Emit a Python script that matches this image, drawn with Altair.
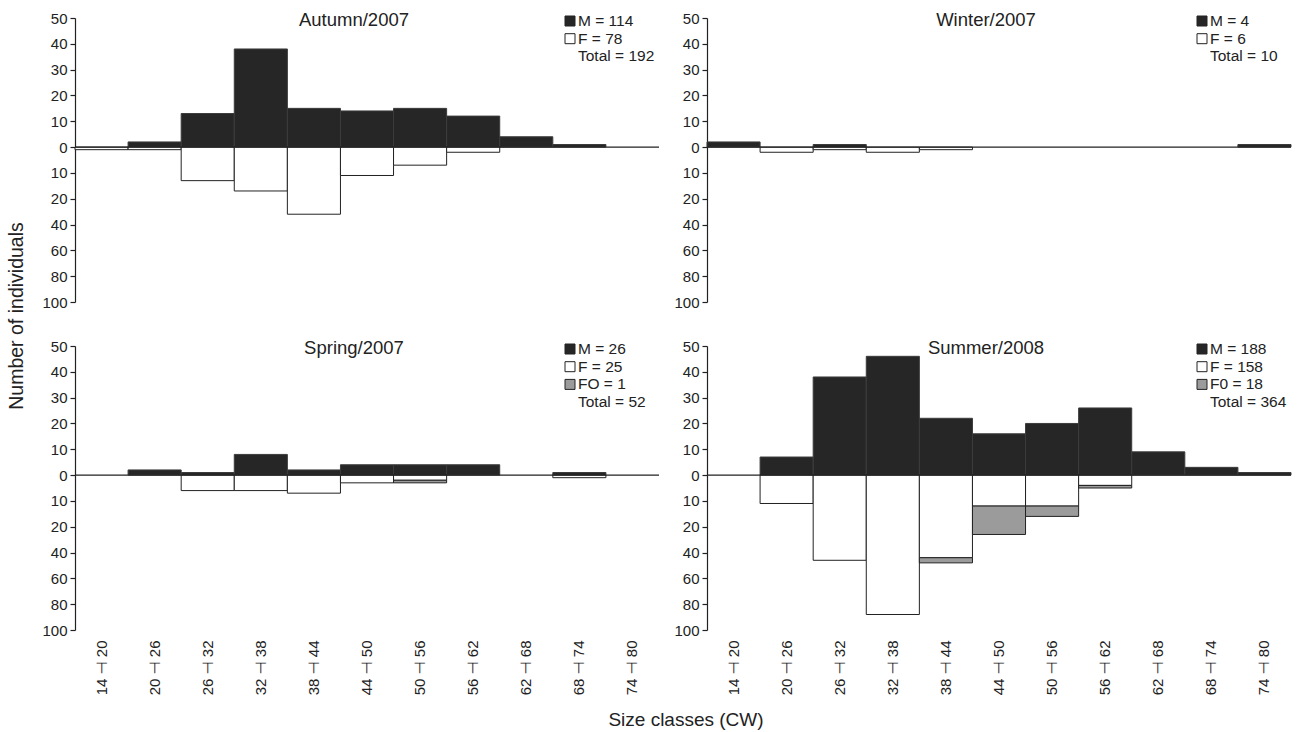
import altair as alt
import pandas as pd

# ---------------- data ----------------
classes = ["14 \u22a3 20", "20 \u22a3 26", "26 \u22a3 32", "32 \u22a3 38", "38 \u22a3 44",
           "44 \u22a3 50", "50 \u22a3 56", "56 \u22a3 62", "62 \u22a3 68", "68 \u22a3 74", "74 \u22a3 80"]

autumn_M = [0, 2, 13, 38, 15, 14, 15, 12, 4, 1, 0]
autumn_F = [1, 1, 13, 17, 26, 11, 7, 2, 0, 0, 0]
autumn_FO = [0, 0, 0, 0, 0, 0, 0, 0, 0, 0, 0]

winter_M = [2, 0, 1, 0, 0, 0, 0, 0, 0, 0, 1]
winter_F = [0, 2, 1, 2, 1, 0, 0, 0, 0, 0, 0]
winter_FO = [0, 0, 0, 0, 0, 0, 0, 0, 0, 0, 0]

spring_M = [0, 2, 1, 8, 2, 4, 4, 4, 0, 1, 0]
spring_F = [0, 0, 6, 6, 7, 3, 2, 0, 0, 1, 0]
spring_FO = [0, 0, 0, 0, 0, 0, 1, 0, 0, 0, 0]

summer_M = [0, 7, 38, 46, 22, 16, 20, 26, 9, 3, 1]
summer_F = [0, 11, 33, 54, 32, 12, 12, 4, 0, 0, 0]
summer_FO = [0, 0, 0, 0, 2, 11, 4, 1, 0, 0, 0]

titles = ["Autumn/2007", "Winter/2007", "Spring/2007", "Summer/2008"]
legend_autumn = [("M", "M = 114"), ("F", "F = 78"), (None, "Total = 192")]
legend_winter = [("M", "M = 4"), ("F", "F = 6"), (None, "Total = 10")]
legend_spring = [("M", "M = 26"), ("F", "F = 25"), ("FO", "FO = 1"), (None, "Total = 52")]
legend_summer = [("M", "M = 188"), ("F", "F = 158"), ("FO", "F0 = 18"), (None, "Total = 364")]

y_tick_values = [50, 40, 30, 20, 10, 0, -10, -20, -30, -40, -50, -60]

# ---------------- style ----------------
FONT = "Liberation Sans, Arial, DejaVu Sans, sans-serif"
INK = "#222222"
FILL = {"M": "#262626", "F": "#ffffff", "FO": "#9b9b9b"}
W, H = 584, 284
label_expr = "datum.value >= -20 ? abs(datum.value) : (abs(datum.value) - 10) * 2"

x_axis = alt.Axis(title=None, labelAngle=270, labelAlign="right", labelBaseline="middle",
                  labelPadding=10, ticks=False, domain=False, labelFontSize=15,
                  labelColor=INK, labelFont=FONT)
y_axis = alt.Axis(title=None, values=y_tick_values, labelExpr=label_expr, grid=False,
                  tickSize=5, tickColor=INK, domainColor=INK, domainWidth=1.2, tickWidth=1.2,
                  labelFontSize=15, labelColor=INK, labelFont=FONT, labelPadding=3)
y_scale = alt.Scale(domain=[-60, 50], nice=False, zero=False)
x_scale = alt.Scale(domain=classes, paddingInner=0, paddingOuter=0)
one = pd.DataFrame({"a": [0]})


def panel(title, M, F, FO, legend, bottom, extra=()):
    df = pd.DataFrame({"cls": classes, "M": M, "F": F, "FO": FO})
    base = alt.Chart(df).transform_calculate(z="0", nF="-datum.F", nFO="-(datum.F + datum.FO)")
    xe = alt.X("cls:N", sort=classes, scale=x_scale, axis=(x_axis if bottom else None))
    layers = [
        base.transform_filter("datum.M > 0").mark_bar(fill=FILL["M"], stroke="#3c3c3c", strokeWidth=1)
        .encode(x=xe, y=alt.Y("M:Q", scale=y_scale, axis=y_axis), y2="z:Q"),
        base.transform_filter("datum.F > 0").mark_bar(fill=FILL["F"], stroke=INK, strokeWidth=1)
        .encode(x=xe, y=alt.Y("nF:Q", scale=y_scale, axis=y_axis), y2="z:Q"),
        base.transform_filter("datum.FO > 0").mark_bar(fill=FILL["FO"], stroke=INK, strokeWidth=1)
        .encode(x=xe, y=alt.Y("nFO:Q", scale=y_scale, axis=y_axis), y2="nF:Q"),
        alt.Chart(pd.DataFrame({"z": [0]})).mark_rule(color=INK, strokeWidth=1.3)
        .encode(y=alt.Y("z:Q", scale=y_scale, axis=y_axis)),
        alt.Chart(one).mark_text(font=FONT, fontSize=18.5, color=INK, align="center", baseline="middle")
        .encode(x=alt.value(279), y=alt.value(2), text=alt.value(title)),
    ]
    for i, (key, label) in enumerate(legend):
        yy = 3 + i * 17.7
        if key is not None:
            layers.append(alt.Chart(one).mark_square(size=100, fill=FILL[key], stroke=INK,
                                                     strokeWidth=1, opacity=1)
                          .encode(x=alt.value(495), y=alt.value(yy)))
        layers.append(alt.Chart(one).mark_text(font=FONT, fontSize=15.5, color=INK, align="left",
                                               baseline="middle")
                      .encode(x=alt.value(503), y=alt.value(yy), text=alt.value(label)))
    layers.extend(extra)
    return alt.layer(*layers).properties(width=W, height=H)


y_title = alt.Chart(one).mark_text(font=FONT, fontSize=19.5, color=INK, angle=270,
                                   align="center", baseline="middle").encode(
    x=alt.value(-58), y=alt.value(298), text=alt.value("Number of individuals"))
x_title = alt.Chart(one).mark_text(font=FONT, fontSize=19, color=INK,
                                   align="center", baseline="middle").encode(
    x=alt.value(611), y=alt.value(374), text=alt.value("Size classes (CW)"))

p1 = panel(titles[0], autumn_M, autumn_F, autumn_FO, legend_autumn, False, [y_title])
p2 = panel(titles[1], winter_M, winter_F, winter_FO, legend_winter, False)
p3 = panel(titles[2], spring_M, spring_F, spring_FO, legend_spring, True, [x_title])
p4 = panel(titles[3], summer_M, summer_F, summer_FO, legend_summer, True)

chart = alt.concat(p1, p2, p3, p4, columns=2, spacing={"row": 44, "column": 48},
                   bounds="flush").properties(
    padding={"left": 7, "top": 11, "right": 5, "bottom": 2},
    background="white",
).configure_view(stroke=None).configure_text(font=FONT)

chart.save("out.html", embed_options={"renderer": "svg", "actions": False})
